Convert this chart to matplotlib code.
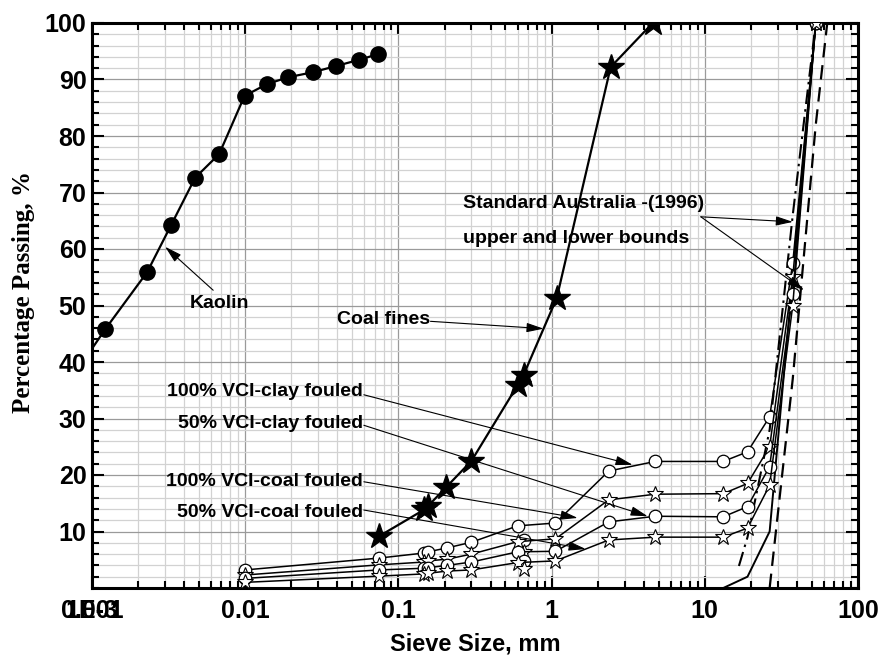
import numpy as np
import matplotlib.pyplot as plt
from matplotlib.ticker import MultipleLocator, LogLocator, NullFormatter, FixedLocator, FixedFormatter

plt.rcParams['font.family'] = ['Liberation Sans', 'DejaVu Sans']
plt.rcParams['font.weight'] = 'bold'

# kaolin (first point lies just left of the axis)
kaolin_size = [0.0008, 0.00122, 0.00229, 0.00328, 0.00471, 0.00676, 0.0099,
               0.0139, 0.0191, 0.0278, 0.0394, 0.0556, 0.074]
kaolin_pass = [38.5, 45.8, 55.9, 64.2, 72.6, 76.8, 87.1, 89.2, 90.4, 91.3, 92.4, 93.5, 94.5]

# coal fines
coal_size = [0.0752, 0.148, 0.156, 0.206, 0.300, 0.600, 0.656, 1.08, 2.43, 4.57]
coal_pass = [9.2, 13.9, 14.5, 17.9, 22.5, 35.9, 37.7, 51.3, 92.2, 100]

# VCI fouled ballast
vci_size = [0.01, 0.075, 0.148, 0.156, 0.208, 0.30, 0.60, 1.06, 2.36, 4.75, 13.2, 19.0, 26.5, 37.5, 53.0]
clay100 = [3.2, 5.3, 6.2, 6.4, 7.1, 8.1, 11.0, 11.5, 20.7, 22.4, 22.4, 24.1, 30.3, 57.5, 100]
coal100 = [2.3, 4.1, 4.6, 4.8, 5.1, 6.0, 8.2, 8.7, 15.6, 16.6, 16.7, 18.5, 25.0, 55.0, 100]
clay50 = [1.7, 3.2, 3.5, 3.6, 4.0, 4.6, 6.4, 6.5, 11.7, 12.7, 12.6, 14.4, 21.5, 52.0, 100]
coal50 = [1.0, 2.1, 2.5, 2.6, 3.0, 3.2, 4.5, 4.8, 8.5, 9.0, 9.0, 10.6, 18.2, 50.0, 100]

# extra readings at 0.656 mm
extra_size = 0.656
extra_clay100, extra_coal100, extra_clay50, extra_coal50 = 8.5, 6.4, 4.7, 3.4

# fresh ballast and Standard Australia bounds
fresh_size = [13.2, 19.0, 26.5, 53.0]
fresh_pass = [0, 2, 10, 100]
upper_size = [16.7, 19.0, 26.5, 37.5, 53.0]
upper_pass = [3.9, 9, 28, 66, 100]
lower_size = [26.5, 37.5, 53.0, 63.0]
lower_pass = [0, 37, 82, 100]

fig = plt.figure(figsize=(8.8, 6.6), dpi=100)
ax = fig.add_axes([92 / 880, 72 / 660, 766 / 880, 565 / 660])
ax.set_xscale('log')
ax.set_xlim(0.001, 100)
ax.set_ylim(0, 100)

# bounds
ax.plot(lower_size, lower_pass, color='black', lw=1.6, ls=(0, (6.5, 3.5)), zorder=3)
ax.plot(upper_size, upper_pass, color='black', lw=1.5, ls=(0, (7, 2.5, 1.2, 2.5)), zorder=3)
ax.plot(fresh_size, fresh_pass, color='black', lw=1.4, zorder=3)

# kaolin and coal fines
ax.plot(kaolin_size, kaolin_pass, color='black', lw=1.6, marker='o', ms=11, zorder=4)
ax.plot(coal_size, coal_pass, color='black', lw=1.6, marker='*', ms=19, zorder=4)

open_circle = dict(marker='o', ms=9, mfc='white', mec='black', mew=0.9)
open_star = dict(marker='*', ms=12, mfc='white', mec='black', mew=0.8)
for vals, extra, style in [(clay100, extra_clay100, open_circle),
                           (coal100, extra_coal100, open_star),
                           (clay50, extra_clay50, open_circle),
                           (coal50, extra_coal50, open_star)]:
    ax.plot(vci_size, vals, color='black', lw=1.1, zorder=5, **style)
    ax.plot([extra_size], [extra], ls='none', zorder=5, **style)

# ticks, grid and frame
ax.xaxis.set_major_locator(FixedLocator([0.001, 0.01, 0.1, 1, 10, 100]))
ax.xaxis.set_major_formatter(FixedFormatter(['0.001', '0.01', '0.1', '1', '10', '100']))
ax.xaxis.set_minor_locator(LogLocator(base=10, subs=np.arange(2, 10)))
ax.xaxis.set_minor_formatter(NullFormatter())
ax.yaxis.set_major_locator(FixedLocator(np.arange(10, 101, 10)))
ax.yaxis.set_minor_locator(MultipleLocator(2))
ax.tick_params(which='both', direction='in', top=True, right=True, width=1.5,
               color='black', labelsize=18)
ax.tick_params(which='major', length=8.5)
ax.tick_params(which='minor', length=5)
ax.tick_params(axis='x', pad=8)
ax.tick_params(axis='y', pad=4)
ax.grid(which='major', color='#9a9a9a', lw=0.9)
ax.grid(which='minor', color='#d2d2d2', lw=0.9)
ax.set_axisbelow(True)
for s in ax.spines.values():
    s.set_linewidth(2.2)
ax.text(0.001, -0.0195, '1E-3', transform=ax.get_xaxis_transform(), ha='center', va='top', fontsize=18)

ax.set_ylabel('Percentage Passing, %', fontsize=18, family='Liberation Serif', fontweight='bold')
ax.yaxis.set_label_coords(-0.075, 0.524)
ax.set_xlabel('Sieve Size, mm', fontsize=17, fontweight='bold')
ax.xaxis.set_label_coords(0.5, -0.078)

# annotations
arrow = dict(arrowstyle='-|>,head_length=0.8,head_width=0.22', color='black', lw=0.8,
             shrinkA=0, shrinkB=0, mutation_scale=13)


def pointer(tail, head):
    ax.annotate('', xy=head, xytext=tail, arrowprops=arrow, zorder=6)


ax.text(0.00676, 50.4, 'Kaolin', fontsize=14, ha='center', va='center')
pointer((0.00618, 52.7), (0.0030, 60.4))
ax.text(0.0798, 47.6, 'Coal fines', fontsize=14, ha='center', va='center')
pointer((0.162, 47.2), (0.887, 45.9))
ax.text(0.266, 68.0, 'Standard Australia -(1996)', fontsize=14, ha='left', va='center')
ax.text(0.266, 61.8, 'upper and lower bounds', fontsize=14, ha='left', va='center')
pointer((9.42, 65.7), (37.6, 64.8))
pointer((9.42, 65.7), (44.4, 52.7))

labels = ['100% VCI-clay fouled', '50% VCI-clay fouled', '100% VCI-coal fouled', '50% VCI-coal fouled']
label_y = [34.7, 29.2, 18.9, 13.3]
tail_y = [34.2, 28.8, 18.8, 13.8]
heads = [(3.38, 21.8), (4.24, 12.7), (1.48, 12.4), (1.67, 6.9)]
for lab, ly, ty, hd in zip(labels, label_y, tail_y, heads):
    ax.text(0.0585, ly, lab, fontsize=14, ha='right', va='center')
    pointer((0.0595, ty), hd)

fig.savefig('out.png', dpi=100)
